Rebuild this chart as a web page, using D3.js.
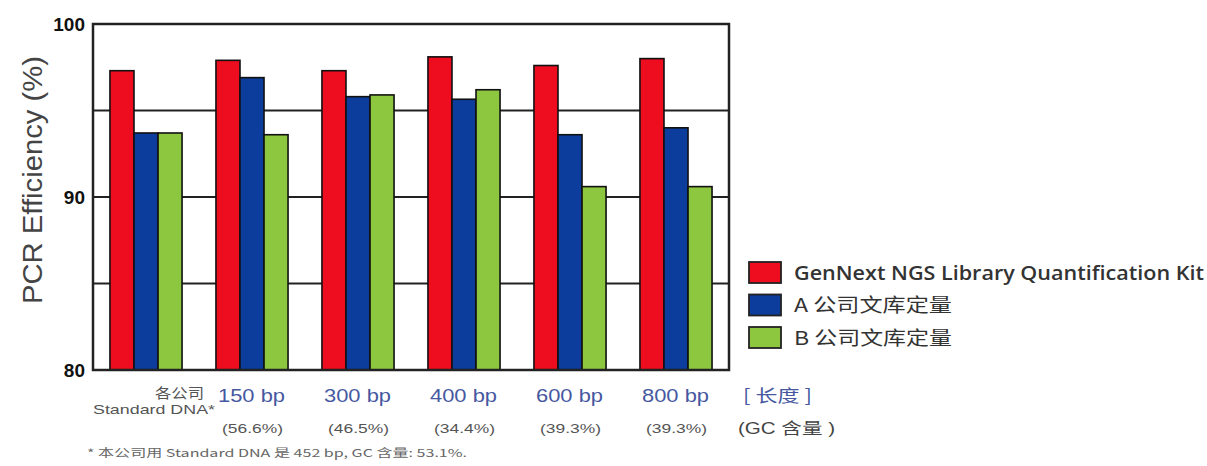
<!DOCTYPE html>
<html>
<head>
<meta charset="utf-8">
<script src="https://cdn.jsdelivr.net/npm/d3@7"></script>
<style>
  html, body { margin: 0; padding: 0; background: #fff; }
  svg { display: block; }
</style>
</head>
<body>
<svg id="chart" width="1207" height="466"></svg>
<script>
// Fragment lengths (category keys) and their GC content
const categories = ["std", "150", "300", "400", "600", "800"];
const lengthLabels = ["", "150 bp", "300 bp", "400 bp", "600 bp", "800 bp"];
const gcLabels = ["", "(56.6%)", "(46.5%)", "(34.4%)", "(39.3%)", "(39.3%)"];

// PCR efficiency (%) per kit
const seriesNames = ["GenNext NGS Library Quantification Kit", "A 公司文库定量", "B 公司文库定量"];
const genNext = [97.3, 97.9, 97.3, 98.1, 97.6, 98.0];
const companyA = [93.7, 96.9, 95.8, 95.65, 93.6, 94.0];
const companyB = [93.7, 93.6, 95.9, 96.2, 90.6, 90.6];
const seriesColors = ["#ee0d1f", "#0c3d9c", "#8dc63f"];

const yTicks = [80, 90, 100];
const gridValues = [85, 90, 95];

const series = [genNext, companyA, companyB];

const svg = d3.select("#chart");
const plotL = 93, plotR = 729, plotT = 24, plotB = 370;
const LATIN = "Liberation Sans, Arial, sans-serif";
const CJK = "Noto Sans CJK SC, sans-serif";

const x = d3.scaleBand().domain(categories).range([plotL, plotR])
  .paddingInner(0.32).paddingOuter(0.16);
const xs = d3.scaleBand().domain(d3.range(series.length)).range([0, x.bandwidth()]);
const y = d3.scaleLinear().domain([80, 100]).range([plotB, plotT]);

// horizontal grid lines
svg.append("g").selectAll("line").data(gridValues).join("line")
  .attr("x1", plotL).attr("x2", plotR)
  .attr("y1", d => y(d)).attr("y2", d => y(d))
  .attr("stroke", "#222").attr("stroke-width", 2);

// bars
const groups = svg.append("g").selectAll("g").data(categories).join("g")
  .attr("transform", d => `translate(${x(d)},0)`);
groups.selectAll("rect")
  .data((d, i) => series.map((s, k) => ({ k, v: s[i] })))
  .join("rect")
  .attr("x", d => xs(d.k))
  .attr("width", xs.bandwidth())
  .attr("y", d => y(d.v))
  .attr("height", d => y(80) - y(d.v))
  .attr("fill", d => seriesColors[d.k])
  .attr("stroke", "#111").attr("stroke-width", 1.6);

// frame
svg.append("rect")
  .attr("x", plotL).attr("y", plotT)
  .attr("width", plotR - plotL).attr("height", plotB - plotT)
  .attr("fill", "none").attr("stroke", "#222").attr("stroke-width", 2.5);

// y axis labels
const yAxis = d3.axisLeft(y).tickValues(yTicks).tickSize(0).tickPadding(8);
const ga = svg.append("g").attr("transform", `translate(${plotL},0)`).call(yAxis);
ga.select(".domain").remove();
ga.selectAll("text")
  .attr("font-family", LATIN)
  .attr("font-size", 19).attr("font-weight", "bold").attr("fill", "#111");

// y axis title
svg.append("text")
  .attr("transform", "translate(42,180) rotate(-90)")
  .attr("text-anchor", "middle")
  .attr("font-family", LATIN)
  .attr("font-size", 28).attr("fill", "#444")
  .attr("textLength", 248).attr("lengthAdjust", "spacingAndGlyphs")
  .text("PCR Efficiency (%)");

// x category labels
const xl = svg.append("g");
xl.selectAll("text.len").data(categories.slice(1)).join("text")
  .attr("class", "len")
  .attr("x", d => x(d) + x.bandwidth() / 2 - 34)
  .attr("y", 402)
  .attr("font-family", LATIN)
  .attr("font-size", 19).attr("fill", "#4658a0")
  .attr("textLength", 67).attr("lengthAdjust", "spacingAndGlyphs")
  .text((d, i) => lengthLabels[i + 1]);
xl.selectAll("text.gc").data(categories.slice(1)).join("text")
  .attr("class", "gc")
  .attr("x", d => x(d) + x.bandwidth() / 2 - 30)
  .attr("y", 433)
  .attr("font-family", LATIN)
  .attr("font-size", 13).attr("fill", "#555")
  .attr("textLength", 61).attr("lengthAdjust", "spacingAndGlyphs")
  .text((d, i) => gcLabels[i + 1]);

// standard DNA label under the first group
xl.append("text")
  .attr("x", 155).attr("y", 398)
  .attr("font-family", CJK)
  .attr("font-size", 14).attr("fill", "#555")
  .attr("textLength", 49).attr("lengthAdjust", "spacingAndGlyphs")
  .text("各公司");
xl.append("text")
  .attr("x", 93).attr("y", 414)
  .attr("font-family", LATIN)
  .attr("font-size", 13.5).attr("fill", "#555")
  .attr("textLength", 122).attr("lengthAdjust", "spacingAndGlyphs")
  .text("Standard DNA*");

// row captions on the right
xl.append("text")
  .attr("x", 743).attr("y", 402)
  .attr("font-family", CJK)
  .attr("font-size", 17).attr("fill", "#4658a0")
  .attr("textLength", 69).attr("lengthAdjust", "spacingAndGlyphs")
  .text("[ 长度 ]");
xl.append("text")
  .attr("x", 738).attr("y", 434)
  .attr("font-family", "Liberation Sans, Noto Sans CJK SC, sans-serif")
  .attr("font-size", 16).attr("fill", "#444")
  .attr("textLength", 97).attr("lengthAdjust", "spacingAndGlyphs")
  .text("(GC 含量 )");

// footnote
svg.append("text")
  .attr("x", 87).attr("y", 457)
  .attr("font-family", CJK)
  .attr("font-size", 11).attr("fill", "#666")
  .attr("textLength", 380).attr("lengthAdjust", "spacingAndGlyphs")
  .text("* 本公司用 Standard DNA 是 452 bp,  GC 含量:  53.1%.");

// legend
const lg = svg.append("g").attr("transform", "translate(749,262)");
const li = lg.selectAll("g").data(seriesNames).join("g")
  .attr("transform", (d, i) => `translate(0,${i * 32.5})`);
li.append("rect")
  .attr("width", 32).attr("height", 21)
  .attr("fill", (d, i) => seriesColors[i])
  .attr("stroke", "#222").attr("stroke-width", 1.8);
li.append("text")
  .attr("x", 45).attr("y", 11).attr("dy", "0.36em")
  .attr("font-family", (d, i) => i === 0 ? "Open Sans, sans-serif" : CJK)
  .attr("font-size", (d, i) => i === 0 ? 19 : 19)
  .attr("font-weight", (d, i) => i === 0 ? 600 : 400)
  .attr("fill", "#333")
  .attr("textLength", (d, i) => i === 0 ? 410 : 158)
  .attr("lengthAdjust", "spacingAndGlyphs")
  .text(d => d);
</script>
</body>
</html>
